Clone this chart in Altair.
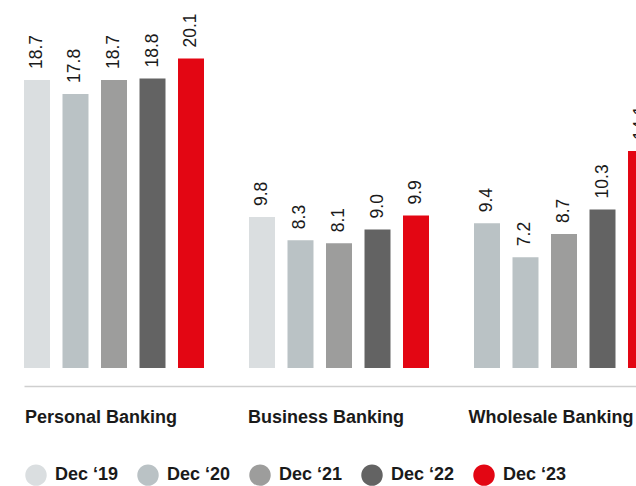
import altair as alt
import pandas as pd

categories = ["Personal Banking", "Business Banking", "Wholesale Banking"]
years = ["Dec \u201819", "Dec \u201820", "Dec \u201821", "Dec \u201822", "Dec \u201823"]
personal = [18.7, 17.8, 18.7, 18.8, 20.1]
business = [9.8, 8.3, 8.1, 9.0, 9.9]
wholesale = [9.4, 7.2, 8.7, 10.3, 14.1]
palette = ["#dadee0", "#bac2c5", "#9d9d9c", "#636363", "#e30613"]

rows = []
for cat, vals in zip(categories, [personal, business, wholesale]):
    for y, v in zip(years, vals):
        rows.append({"category": cat, "year": y, "value": v})
df = pd.DataFrame(rows)

x = alt.X(
    "category:N",
    sort=categories,
    scale=alt.Scale(range=[24, 654], paddingInner=0.2, paddingOuter=0),
    axis=alt.Axis(
        title=None, orient="bottom", offset=18, ticks=False,
        domainColor="#cfcfcf", domainWidth=1.5,
        labelAlign="center", labelOffset=-13, labelPadding=22,
        labelBaseline="top",
        labelFont="Liberation Sans", labelFontWeight="bold", labelFontSize=18,
        labelColor="#1a1a1a", labelAngle=0,
    ),
)
xoff = alt.XOffset("year:N", sort=years, scale=alt.Scale(paddingInner=0.325, paddingOuter=0))
y = alt.Y("value:Q", scale=alt.Scale(domain=[0, 23.9], nice=False, zero=True), axis=None)

color = alt.condition(
    "datum.category == 'Wholesale Banking' && datum.year == 'Dec \u201819'",
    alt.value(palette[1]),
    alt.Color(
        "year:N", sort=years,
        scale=alt.Scale(domain=years, range=palette),
        legend=alt.Legend(
            title=None, orient="none", legendX=25, legendY=464,
            direction="horizontal", symbolType="circle", symbolSize=460,
            symbolStrokeWidth=0, symbolOpacity=1, labelOffset=8,
            columnPadding=18, labelFont="Liberation Sans", labelFontWeight="bold",
            labelFontSize=18, labelColor="#1a1a1a", labelLimit=200,
        ),
    ),
)

bars = alt.Chart(df).mark_bar(clip=True).encode(x=x, xOffset=xoff, y=y, color=color)

labels = alt.Chart(df).mark_text(
    clip=True, angle=270, align="left", baseline="middle", dx=11,
    font="Liberation Sans", fontSize=17.5, color="#1a1a1a",
).encode(x=x, xOffset=xoff, y=y, text=alt.Text("value:Q", format=".1f"))

chart = (
    alt.layer(bars, labels)
    .properties(
        width=636, height=368,
        autosize=alt.AutoSizeParams(type="none"),
        padding={"left": 0, "top": 0, "right": 0, "bottom": 118},
        background="white",
    )
    .configure_view(stroke=None)
)

chart.save("out.html", embed_options={"renderer": "svg", "actions": False})
